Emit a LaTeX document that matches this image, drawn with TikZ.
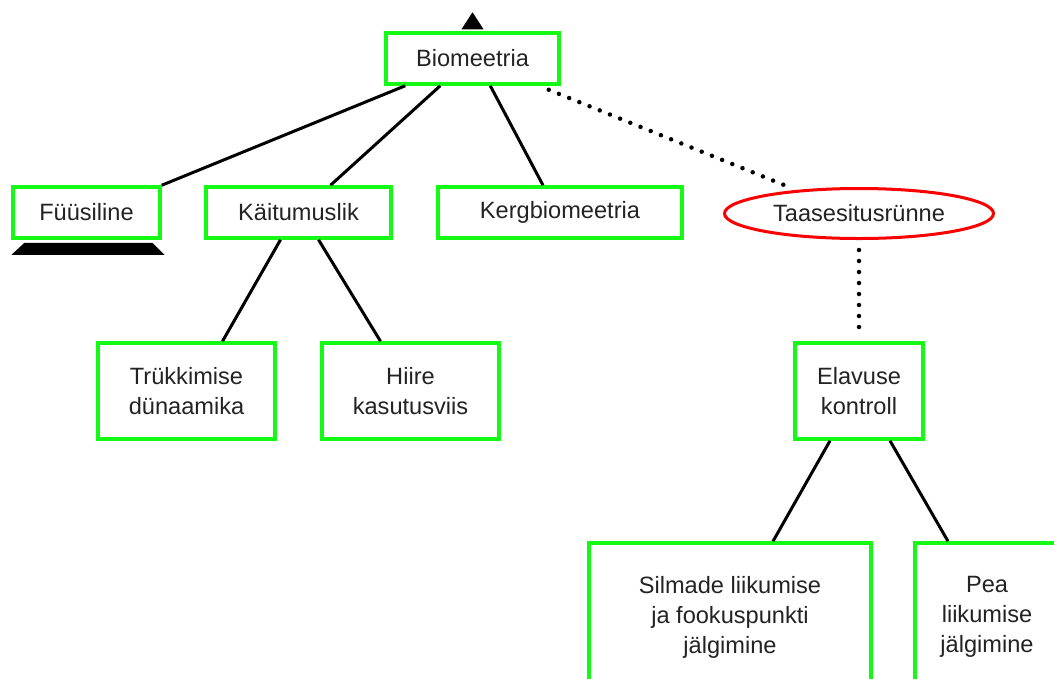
\documentclass[tikz,border=0pt]{standalone}
\usepackage{fontspec}
\setmainfont{Liberation Sans}
\usetikzlibrary{shapes.geometric,calc}
\definecolor{boxgreen}{RGB}{20,250,20}
\definecolor{ovalred}{RGB}{250,0,0}
\definecolor{txt}{RGB}{35,35,35}
\begin{document}
\begin{tikzpicture}[x=1pt,y=-1pt,
  box/.style={draw=boxgreen,line width=3.5pt,fill=white,align=center,inner sep=0pt,
    text=txt,font=\fontsize{23.6}{30}\selectfont},
  oval/.style={draw=ovalred,line width=3pt,fill=white,ellipse,align=center,inner sep=0pt,
    text=txt,font=\fontsize{23.6}{30}\selectfont},
  link/.style={line width=3pt},
  dotlink/.style={line width=4.5pt,line cap=round,dash pattern=on 0pt off 11pt}]
\clip (0,0) rectangle (1054,678);
\useasboundingbox (0,0) rectangle (1054,678);
\node[box,minimum width=173pt,minimum height=51pt] (bio) at (472.5,58.5) {Biomeetria};
\node[box,minimum width=147pt,minimum height=51pt] (fu) at (86.5,212.5) {Füüsiline};
\node[box,minimum width=185pt,minimum height=51pt] (ka) at (298.5,212.5) {Käitumuslik};
\node[box,minimum width=244pt,minimum height=51pt] (ke) at (560,212.5) {Kergbiomeetria};
\node[oval,minimum width=269pt,minimum height=50pt] (ta) at (859,213.5) {Taasesitusrünne};
\node[box,minimum width=177pt,minimum height=96pt] (tr) at (186.5,391) {Trükkimise\\dünaamika};
\node[box,minimum width=177pt,minimum height=96pt] (hi) at (410.5,391) {Hiire\\kasutusviis};
\node[box,minimum width=128pt,minimum height=96pt] (el) at (859,391) {Elavuse\\kontroll};
\node[box,minimum width=282pt,minimum height=148pt] (si) at (730,617) {Silmade liikumise\\ja fookuspunkti\\jälgimine};
\node[box,minimum width=144pt,minimum height=148pt] (pe) at (987,617) {Pea\\liikumise\\jälgimine};
% markers
\fill ($(bio.north)+(0,-19)$) -- ($(bio.north)+(11,-2)$) -- ($(bio.north)+(-11,-2)$) -- cycle;
\fill ($(fu.south)+(-62,3)$) -- ($(fu.south)+(66,3)$) -- ($(fu.south)+(78,15)$) -- ($(fu.south)+(-75,15)$) -- cycle;
% connectors
\draw[link] ($(bio.south west)+(21,0)$) -- (fu.north east);
\draw[link] ($(bio.south west)+(56,0)$) -- ($(ka.north)+(32,0)$);
\draw[link] ($(bio.south west)+(106,0)$) -- ($(ke.north)+(-17,0)$);
\draw[dotlink] ($(bio.south east)+(-12,4)$) -- ($(ta.north)+(-70,0)$);
\draw[link] ($(ka.south)+(-18,0)$) -- ($(tr.north)+(36,0)$);
\draw[link] ($(ka.south)+(20,0)$) -- ($(hi.north)+(-30,0)$);
\draw[dotlink] ($(ta.south)+(0,10)$) -- ($(el.north)+(0,-4)$);
\draw[link] ($(el.south)+(-29,0)$) -- ($(si.north)+(43,0)$);
\draw[link] ($(el.south)+(31,0)$) -- ($(pe.north)+(-39,0)$);
\end{tikzpicture}
\end{document}
